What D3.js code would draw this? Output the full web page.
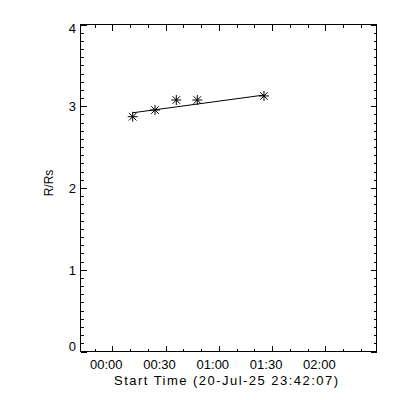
<!DOCTYPE html>
<html><head><meta charset="utf-8">
<script src="https://cdn.jsdelivr.net/npm/d3@7"></script>
<style>
body{margin:0;background:#fff;}
text{font-family:"Liberation Sans",Arial,sans-serif;fill:#000;}
</style></head>
<body><svg id="c" width="400" height="400"></svg>
<script>
const startTime = "2025-07-20T23:42:07Z";
const obsTimes = ["2025-07-21T00:11:47Z","2025-07-21T00:24:21Z","2025-07-21T00:36:20Z","2025-07-21T00:48:10Z","2025-07-21T01:25:43Z"];
const obsR = [2.866, 2.948, 3.07, 3.07, 3.12];
const fitTimes = ["2025-07-21T00:11:47Z","2025-07-21T01:25:43Z"];
const fitR = [2.914, 3.131];
const yTicks = [0,1,2,3,4];
const xTitle = "Start Time (20-Jul-25 23:42:07)";
const yTitle = "R/Rs";

const svg = d3.select("#c");
const L=80,R=376,T=24,B=351;
const t0 = new Date(startTime);
const x = d3.scaleUtc().domain([t0, new Date(t0.getTime()+10000*1000)]).range([L,R]);
const y = d3.scaleLinear().domain([0,4]).range([B,T]);

const g = svg.append("g").attr("shape-rendering","crispEdges");
g.append("rect").attr("x",L+0.5).attr("y",T+0.5).attr("width",R-L).attr("height",B-T)
 .attr("fill","none").attr("stroke","#000");

const fmt = d3.utcFormat("%H:%M");
const majX = x.ticks(d3.utcMinute.every(30));
const minX = x.ticks(d3.utcMinute.every(10));
const minY = d3.range(0,41).map(d=>d/10);

// bottom axis
const bx = d3.axisBottom(x).tickValues(majX).tickFormat(fmt).tickSize(-6).tickPadding(10);
const gb = g.append("g").attr("transform",`translate(0.5,${B+0.5})`).call(bx);
gb.select(".domain").remove();
gb.selectAll("text").attr("font-size",13).attr("dx",-6.5).attr("dy","0.72em").attr("y",8);
g.append("g").attr("transform",`translate(0.5,${B+0.5})`)
 .call(d3.axisBottom(x).tickValues(minX).tickFormat("").tickSize(-3)).select(".domain").remove();
// top axis
g.append("g").attr("transform",`translate(0.5,${T+0.5})`)
 .call(d3.axisTop(x).tickValues(majX).tickFormat("").tickSize(-6)).select(".domain").remove();
g.append("g").attr("transform",`translate(0.5,${T+0.5})`)
 .call(d3.axisTop(x).tickValues(minX).tickFormat("").tickSize(-3)).select(".domain").remove();
// left axis
const gl = g.append("g").attr("transform",`translate(${L+0.5},0.5)`)
 .call(d3.axisLeft(y).tickValues(yTicks).tickFormat(d3.format("d")).tickSize(-6).tickPadding(10));
gl.select(".domain").remove();
gl.selectAll("text").attr("font-size",13).attr("x",-4.5)
 .attr("dy",d=> d===0 ? "-0.05em" : d===4 ? "0.6em" : "0.35em");
g.append("g").attr("transform",`translate(${L+0.5},0.5)`)
 .call(d3.axisLeft(y).tickValues(minY).tickFormat("").tickSize(-3)).select(".domain").remove();
// right axis
g.append("g").attr("transform",`translate(${R+0.5},0.5)`)
 .call(d3.axisRight(y).tickValues(yTicks).tickFormat("").tickSize(-6)).select(".domain").remove();
g.append("g").attr("transform",`translate(${R+0.5},0.5)`)
 .call(d3.axisRight(y).tickValues(minY).tickFormat("").tickSize(-3)).select(".domain").remove();

// titles
svg.append("text").attr("x",226).attr("y",385).attr("text-anchor","middle")
 .attr("font-size",13).attr("textLength",224).attr("lengthAdjust","spacing").text(xTitle);
svg.append("text").attr("transform","translate(53,183) rotate(-90)").attr("text-anchor","middle")
 .attr("font-size",12).text(yTitle);

// fit line
const fit = fitTimes.map((t,i)=>({t:new Date(t),r:fitR[i]}));
svg.append("path").datum(fit)
 .attr("d",d3.line().x(d=>x(d.t)).y(d=>y(d.r)))
 .attr("fill","none").attr("stroke","#000").attr("stroke-width",1);

// stars
const obs = obsTimes.map((t,i)=>({t:new Date(t),r:obsR[i]}));
const a=5, b=3.8;
const star = `M0,${-a}V${a}M${-a},0H${a}M${-b},${-b}L${b},${b}M${-b},${b}L${b},${-b}`;
svg.append("g").selectAll("path").data(obs).join("path")
 .attr("transform",d=>`translate(${x(d.t)},${y(d.r)})`)
 .attr("d",star).attr("fill","none").attr("stroke","#000").attr("stroke-width",1);
</script></body></html>
